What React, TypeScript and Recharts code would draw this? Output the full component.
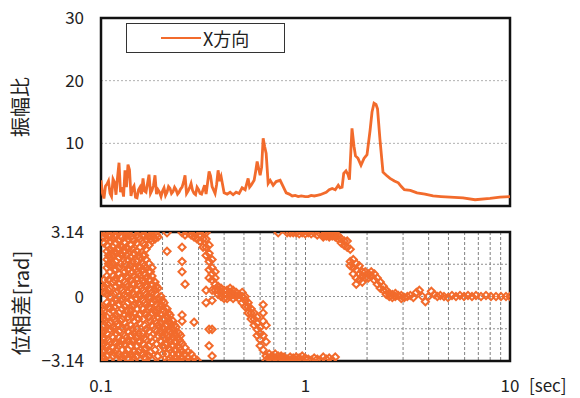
import React from 'react';
import { LineChart, Line, ScatterChart, Scatter, XAxis, YAxis, CartesianGrid, ReferenceArea } from 'recharts';

const ORANGE = '#F26B2C';
const FONT = "'Noto Sans CJK JP', 'Noto Sans', sans-serif";

const periodTicks = [0.1, 0.2, 0.3, 0.4, 0.5, 0.6, 0.7, 0.8, 0.9, 1, 2, 3, 4, 5, 6, 7, 8, 9, 10];
const ampTicks = [0, 10, 20, 30];
const phaseTicks = [-3.14, -1.57, 0, 1.57, 3.14];
const legendLabel = 'X方向';
const ampTitle = '振幅比';
const phaseTitle = '位相差[rad]';
const unitLabel = '[sec]';

const ampPeriod = [
  0.1, 0.1017, 0.1034, 0.1052, 0.107, 0.1088, 0.1107, 0.1126, 0.1145, 0.1164, 0.1184, 0.1204, 0.1225, 0.1246,
  0.1267, 0.1289, 0.131, 0.1332, 0.1355, 0.1378, 0.1402, 0.1426, 0.145, 0.1475, 0.15, 0.1526, 0.1551, 0.1577,
  0.1605, 0.1632, 0.166, 0.1688, 0.1717, 0.1746, 0.1776, 0.1806, 0.1837, 0.1868, 0.19, 0.1932, 0.1966, 0.1999,
  0.2033, 0.2068, 0.2103, 0.2139, 0.2175, 0.2212, 0.225, 0.2289, 0.2328, 0.2368, 0.2408, 0.2449, 0.2491, 0.2533,
  0.2576, 0.262, 0.2665, 0.2711, 0.2757, 0.2803, 0.2851, 0.29, 0.2949, 0.3, 0.3051, 0.3103, 0.3156, 0.321, 0.3265,
  0.3377, 0.3433, 0.3493, 0.3613, 0.3675, 0.3738, 0.3802, 0.3866, 0.3999, 0.4137, 0.4279, 0.4426, 0.4579, 0.4736,
  0.4899, 0.5068, 0.5242, 0.5332, 0.5422, 0.5609, 0.5705, 0.5802, 0.5901, 0.6001, 0.6103, 0.6208, 0.6314, 0.6421,
  0.6568, 0.672, 0.6948, 0.7187, 0.7516, 0.778, 0.8048, 0.8325, 0.8611, 0.8908, 0.9214, 0.9531, 0.9967, 1.031,
  1.066, 1.103, 1.141, 1.18, 1.221, 1.263, 1.306, 1.351, 1.398, 1.446, 1.475, 1.51, 1.538, 1.578, 1.614, 1.64,
  1.688, 1.727, 1.756, 1.806, 1.868, 1.932, 1.999, 2.068, 2.115, 2.163, 2.212, 2.25, 2.314, 2.393, 2.484, 2.59,
  2.72, 2.844, 2.941, 3.043, 3.256, 3.51, 3.84, 4.203, 4.598, 5.089, 5.891, 6.745, 7.985, 8.937, 10,
];
const ampRatio = [
  4.1, 2.0, 1.2, 3.2, 3.5, 4.0, 2.0, 1.5, 4.3, 3.8, 1.8, 4.5, 6.9, 2.2,
  3.0, 1.5, 5.7, 3.0, 6.6, 5.8, 1.6, 2.8, 3.2, 1.4, 1.3, 2.6, 3.0, 1.9,
  4.4, 2.4, 2.2, 3.6, 5.0, 2.0, 2.5, 3.3, 4.9, 1.9, 2.6, 2.2, 1.5, 2.4,
  2.9, 1.7, 2.2, 3.1, 2.8, 2.0, 2.3, 3.0, 2.6, 1.9, 2.2, 2.7, 3.0, 3.8,
  4.9, 2.0, 2.4, 2.9, 3.6, 2.5, 2.0, 1.8, 3.0, 2.6, 2.0, 1.9, 2.6, 3.3, 1.9,
  5.5, 4.8, 3.1, 2.0, 3.4, 5.7, 4.0, 4.7, 2.1, 1.9, 2.2, 1.8, 2.2, 2.0,
  2.9, 2.6, 4.4, 3.0, 3.3, 4.1, 5.5, 7.1, 6.0, 4.9, 6.2, 10.8, 9.5, 8.4,
  3.6, 4.1, 3.3, 3.9, 4.1, 3.1, 2.1, 1.9, 1.6, 1.7, 1.5, 1.6, 1.5, 1.5,
  1.7, 1.6, 1.7, 1.8, 2.0, 2.2, 2.6, 2.8, 2.6, 3.3, 2.9, 3.0, 5.2, 5.6, 5.0, 4.2,
  12.4, 9.5, 8.0, 7.6, 6.5, 7.6, 8.2, 12.0, 15.0, 16.4, 16.2, 15.5, 10.5, 5.4, 4.9, 4.4,
  4.0, 3.7, 3.1, 2.6, 2.5, 2.1, 1.9, 1.6, 1.5, 1.4, 1.3, 1.0, 1.2, 1.4, 1.5,
];

// period, phase values observed at that period
const phaseColumns: [number, number[]][] = [
  [0.1, [-3.1, -2.8, -2.5, -2.2, -1.9, -1.6, -1.2, -0.8, -0.5, 0.3, 0.6, 3.1]],
  [0.1034, [-3.0, -2.7, -2.3, -2.0, -1.7, -1.4, -1.1, -0.7, 0.2, 0.5, 0.8, 2.6, 2.9, 3.1]],
  [0.107, [-2.9, -2.4, -1.8, -1.0, -0.3, 0.1, 0.6, 1.0, 1.4, 1.8, 2.2, 2.5, 2.8, 3.1]],
  [0.1107, [-3.1, -2.7, -2.2, -1.6, -1.3, -0.6, 0.0, 0.4, 1.2, 1.5, 1.9, 2.3, 2.7, 3.0]],
  [0.1145, [-2.9, -2.5, -2.0, -1.5, -1.0, -0.7, -0.3, 0.7, 1.0, 1.6, 2.0, 2.4, 2.8, 3.1]],
  [0.1184, [-3.1, -2.6, -2.3, -1.8, -1.2, -0.9, -0.2, 0.2, 0.5, 0.9, 1.3, 1.7, 2.1, 2.6, 3.0]],
  [0.1225, [-2.8, -2.4, -2.0, -1.7, -1.4, -0.8, -0.4, 0.0, 0.6, 1.1, 1.4, 1.9, 2.3, 2.7, 3.1]],
  [0.1267, [-3.1, -2.6, -2.1, -1.5, -1.1, -0.6, -0.1, 0.3, 2.0, 2.4, 2.9]],
  [0.131, [-2.9, -2.3, -1.9, -1.3, -0.9, -0.5, 0.1, 0.7, 1.2, 1.6, 2.2, 2.6, 3.1]],
  [0.1355, [-3.0, -2.6, -2.2, -1.7, -1.0, -0.3, 0.2, 0.5, 0.9, 1.3, 1.8, 2.3, 2.8, 3.1]],
  [0.1402, [-2.8, -2.4, -1.9, -1.4, -0.7, -0.2, 0.4, 0.8, 1.5, 1.9, 2.5, 2.9]],
  [0.145, [-3.1, -2.7, -2.1, -1.8, -1.2, -0.8, -0.4, 0.1, 0.6, 1.0, 1.4, 2.1, 2.7, 3.1]],
  [0.15, [-2.9, -2.4, -2.0, -1.6, -0.6, -0.1, 0.3, 0.9, 1.2, 1.7, 2.2, 2.6, 3.0]],
  [0.1551, [-3.1, -2.6, -2.2, -1.3, -0.9, -0.4, 0.0, 0.5, 1.0, 1.4, 1.9, 2.4, 2.8, 3.1]],
  [0.1605, [-2.8, -2.3, -1.8, -1.1, -0.6, -0.2, 0.3, 0.8, 1.3, 1.6, 2.0, 2.6, 3.0]],
  [0.166, [-3.0, -2.5, -2.1, -1.6, -0.9, -0.4, 0.1, 0.5, 0.9, 1.4, 1.8, 2.3, 2.8, 3.1]],
  [0.1717, [-2.9, -2.4, -1.7, -1.0, -0.5, 0.0, 0.4, 0.8, 1.2, 1.6, 2.5, 2.9, 3.1]],
  [0.1776, [-3.1, -2.2, -1.4, -0.8, -0.3, 0.2, 0.6, 1.0, 1.4, 2.7, 3.0]],
  [0.1837, [-2.6, -1.6, -1.2, -0.7, -0.2, 0.3, 0.7, 2.8, 3.1]],
  [0.19, [-2.9, -1.9, -1.4, -1.0, -0.6, -0.1, 0.4, 2.9]],
  [0.1966, [-3.1, -2.2, -1.7, -1.3, -0.9, -0.4, 0.0]],
  [0.2033, [-2.5, -2.0, -1.6, -1.1, -0.7, -0.3]],
  [0.2103, [-2.8, -2.3, -1.9, -1.4, -1.0, -0.6, 2.2, 3.1]],
  [0.2175, [-3.0, -2.6, -2.2, -1.7, -1.3, -0.9]],
  [0.225, [-3.1, -2.8, -2.4, -2.0, -1.6, -1.2]],
  [0.2328, [-3.0, -2.6, -2.2, -1.9, -1.5]],
  [0.2408, [-3.1, -2.8, -2.5, -2.1, -1.8]],
  [0.2491, [-3.0, -2.7, -2.3, -1.2, -0.9, 1.2, 1.7, 2.4, 3.1]],
  [0.2576, [-3.1, -2.8, -2.5, 0.6, 3.0]],
  [0.2665, [-3.0, -2.7, 3.1]],
  [0.2757, [-3.1, -2.8, 3.0]],
  [0.2851, [-3.0, -1.25, 2.9, 3.1]],
  [0.2949, [-3.1, 2.8, 3.1]],
  [0.3051, [2.7, 3.0]],
  [0.3156, [2.4, 2.8, 3.1]],
  [0.3265, [-0.3, 0.3, 2.0, 2.4, 2.8, 3.1]],
  [0.3377, [-2.4, -1.6, 0.9, 1.3, 1.7, 2.1, 2.5]],
  [0.3493, [-2.9, -1.6, -0.2, 0.3, 0.8, 1.1, 1.4, 1.8]],
  [0.3613, [0.3, 0.6, 0.9, 1.2]],
  [0.3738, [0.1, 0.3, 0.5]],
  [0.3866, [0.0, 0.2, 0.4]],
  [0.3999, [-0.1, 0.1, 0.3]],
  [0.4137, [-0.1, 0.1, 0.3]],
  [0.4279, [0.0, 0.2, 0.4]],
  [0.4426, [-0.1, 0.1, 0.3]],
  [0.4579, [0.0, 0.2]],
  [0.4736, [-0.1, 0.1]],
  [0.4899, [-0.3, 0.0, 0.2]],
  [0.5068, [-0.5, -0.2, 0.0]],
  [0.5242, [-0.8, -0.5, -0.3]],
  [0.5422, [-1.1, -0.8, -0.6]],
  [0.5609, [-1.4, -1.1, -0.8]],
  [0.5802, [-1.9, -1.6, -1.3, -1.0]],
  [0.6001, [-2.4, -2.1, -1.8, -1.5]],
  [0.6208, [-2.6, -1.9, -1.2, -0.8, -0.4]],
  [0.6421, [-3.1, -2.9, -2.2, -1.4]],
  [0.6642, [-3.0, -2.8]],
  [0.6871, [-3.1, -2.9]],
  [0.7107, [-3.0, -2.8]],
  [0.7351, [-3.1, -2.9, 3.1]],
  [0.7604, [-3.0, -2.9]],
  [0.7866, [-3.1, -2.95]],
  [0.8136, [-3.05, 3.1]],
  [0.8416, [-3.1, -2.95, 3.1]],
  [0.8706, [-3.0, 3.1]],
  [0.9005, [-3.1, -2.95, 3.1]],
  [0.9315, [-3.0, 3.05]],
  [0.9636, [-3.1, -2.9, 3.1]],
  [0.9967, [-3.0, 3.05]],
  [1.031, [-3.05, 3.1]],
  [1.066, [-3.1, 3.05]],
  [1.103, [-3.0, 3.1]],
  [1.141, [-3.05, 3.0]],
  [1.18, [-3.1, 3.05]],
  [1.221, [-2.95, 2.9, 3.0]],
  [1.263, [-3.05, 2.95, 3.05]],
  [1.306, [-3.0, 2.9, 3.0]],
  [1.351, [-3.1, 2.95, 3.05]],
  [1.398, [-2.95, 2.9, 3.0]],
  [1.446, [2.8, 2.95]],
  [1.496, [2.6, 2.8]],
  [1.547, [2.5, 2.7]],
  [1.6, [2.4, 2.7]],
  [1.655, [1.5, 1.7, 2.3]],
  [1.712, [1.1, 1.4, 1.8]],
  [1.771, [0.6, 0.9, 1.3, 1.6]],
  [1.832, [0.8, 1.1, 1.5]],
  [1.895, [0.7, 1.0, 1.2]],
  [1.96, [0.9, 1.2]],
  [2.028, [0.9, 1.1]],
  [2.097, [1.0, 1.2]],
  [2.17, [0.8, 1.1]],
  [2.244, [0.6, 0.9]],
  [2.321, [0.4, 0.7]],
  [2.401, [0.3, 0.5]],
  [2.484, [0.1, 0.3]],
  [2.569, [0.0, 0.15]],
  [2.658, [-0.05, 0.1]],
  [2.749, [0.0, 0.15]],
  [2.844, [0.05]],
  [2.941, [-0.1, 0.05]],
  [3.043, [-0.05]],
  [3.147, [0.0]],
  [3.256, [0.05]],
  [3.368, [-0.05]],
  [3.484, [0.2]],
  [3.603, [0.3]],
  [3.727, [0.0]],
  [3.856, [-0.25]],
  [3.988, [0.0]],
  [4.126, [0.25]],
  [4.268, [0.1]],
  [4.414, [0.0]],
  [4.566, [0.05]],
  [4.756, [0.0]],
  [4.975, [-0.05]],
  [5.204, [0.05]],
  [5.443, [0.0]],
  [5.694, [0.05]],
  [5.957, [0.0]],
  [6.231, [0.05]],
  [6.519, [0.0]],
  [6.818, [0.05]],
  [7.215, [0.0]],
  [7.632, [0.05]],
  [8.074, [0.0]],
  [8.542, [0.0]],
  [9.037, [0.0]],
  [9.559, [0.0]],
  [10, [0.0]],
];

// additional readings in the dense short-period zone
const phaseColumnsDense: [number, number[]][] = [
  [0.1017, [-2.95, -2.65, -2.35, -2.05, -1.75, -1.45, -0.95, -0.6, 0.4]],
  [0.1088, [-2.6, -2.1, -1.4, -0.5, 0.3, 0.8, 1.6, 2.0, 2.95]],
  [0.1164, [-2.75, -2.2, -1.6, -1.1, -0.5, 0.1, 0.8, 1.3, 2.2, 2.95]],
  [0.1246, [-2.95, -2.3, -1.2, -0.2, 0.4, 0.9, 1.6, 2.1, 2.5, 2.95]],
  [0.1332, [-2.8, -2.0, -1.5, -0.7, 0.0, 0.6, 1.0, 1.5, 2.0, 2.4, 2.95]],
  [0.1426, [-2.95, -2.2, -1.6, -1.0, -0.5, 0.2, 0.6, 1.2, 1.7, 2.3, 2.8]],
  [0.1526, [-2.7, -2.2, -1.8, -1.1, -0.3, 0.1, 0.6, 1.1, 1.5, 2.0, 2.9]],
  [0.1632, [-2.95, -2.6, -2.0, -1.4, -0.8, -0.3, 0.2, 0.7, 1.1, 1.5, 2.0, 2.5, 2.95]],
  [0.1746, [-2.7, -2.0, -1.2, -0.6, -0.1, 0.3, 0.8, 1.2, 2.8]],
  [0.1868, [-2.3, -1.7, -1.3, -0.8, -0.4, 0.1, 0.5, 3.0]],
  [0.1999, [-2.8, -2.4, -1.9, -1.5, -1.1, -0.6, -0.2]],
  [0.2139, [-3.1, -2.5, -2.0, -1.6, -1.2, -0.8]],
  [0.2289, [-3.0, -2.6, -2.2, -1.8, -1.4]],
  [0.2449, [-3.0, -2.6, -2.2, -1.9]],
];

const ampData = ampPeriod.map((t, i) => ({ t, v: ampRatio[i] }));
const phaseData = [...phaseColumns, ...phaseColumnsDense].flatMap(([t, ps]) => ps.map((p) => ({ t, p })));

const near = (a: number, b: number) => Math.abs(a - b) < 1e-9;

const XTick = (props: any) => {
  const { x, y, payload } = props;
  const v = payload.value;
  let label = '';
  if (near(v, 0.1)) label = '0.1';
  else if (near(v, 1)) label = '1';
  else if (near(v, 10)) label = '10';
  if (!label) return <g />;
  return (
    <g>
      <text x={x} y={y} dy="0.71em" textAnchor="middle" fontSize={17} fill="#222" fontFamily={FONT}>{label}</text>
      {near(v, 10) ? (
        <text x={x + 19} y={y} dy="0.71em" textAnchor="start" fontSize={17} fill="#222" fontFamily={FONT}>{unitLabel}</text>
      ) : null}
    </g>
  );
};

const Diamond = (props: any) => {
  const { cx, cy } = props;
  if (cx == null || cy == null) return <g />;
  const r = 3.6;
  return (
    <path
      d={`M${cx},${cy - r}L${cx + r},${cy}L${cx},${cy + r}L${cx - r},${cy}Z`}
      fill="none"
      stroke={ORANGE}
      strokeWidth={2}
    />
  );
};

const tickStyle = { fontSize: 17, fill: '#222', fontFamily: FONT };

export default function App() {
  return (
    <div style={{ position: 'absolute', left: 0, top: 0, width: 580, height: 398, background: '#fff', fontFamily: FONT }}>
      <div style={{ position: 'absolute', left: 0, top: 0 }}>
        <LineChart width={580} height={215} data={ampData} margin={{ top: 18, right: 70, bottom: 9, left: 0 }}>
          <CartesianGrid vertical={false} stroke="#b0b0b0" strokeDasharray="2 2" />
          <CartesianGrid horizontal={false} stroke="#808080" strokeDasharray="3 2" />
          <XAxis
            dataKey="t"
            type="number"
            scale="log"
            domain={[0.1, 10]}
            allowDataOverflow
            ticks={periodTicks}
            height={0}
            tick={false}
            tickLine={false}
            axisLine={false}
          />
          <YAxis
            type="number"
            domain={[0, 30]}
            ticks={ampTicks}
            width={101}
            tickLine={false}
            axisLine={false}
            tickMargin={11}
            tick={tickStyle}
          />
          <Line type="linear" dataKey="v" stroke={ORANGE} strokeWidth={2.8} dot={false} isAnimationActive={false} />
          <ReferenceArea x1={0.1} x2={10} y1={0} y2={30} fill="none" stroke="#111" strokeWidth={2.5} />
        </LineChart>
      </div>
      <div style={{ position: 'absolute', left: 0, top: 214 }}>
        <ScatterChart width={580} height={184} margin={{ top: 18, right: 70, bottom: 7, left: 0 }}>
          <CartesianGrid vertical={false} stroke="#909090" strokeDasharray="2 2" />
          <CartesianGrid horizontal={false} stroke="#808080" strokeDasharray="3 2" />
          <XAxis
            dataKey="t"
            type="number"
            scale="log"
            domain={[0.1, 10]}
            allowDataOverflow
            ticks={periodTicks}
            height={30}
            tickLine={false}
            axisLine={false}
            tickMargin={13}
            tick={<XTick />}
            interval={0}
          />
          <YAxis
            dataKey="p"
            type="number"
            domain={[-3.14, 3.14]}
            allowDataOverflow
            ticks={phaseTicks}
            width={101}
            tickLine={false}
            axisLine={false}
            tickMargin={11}
            interval={0}
            tick={tickStyle}
            tickFormatter={(v: number) => (near(v, 3.14) ? '3.14' : near(v, -3.14) ? '−3.14' : near(v, 0) ? '0' : '')}
          />
          <Scatter data={phaseData} shape={<Diamond />} isAnimationActive={false} />
          <ReferenceArea x1={0.1} x2={10} y1={-3.14} y2={3.14} fill="none" stroke="#111" strokeWidth={2.5} />
        </ScatterChart>
      </div>
      <div
        style={{
          position: 'absolute', left: 126, top: 23, width: 159, height: 30, boxSizing: 'border-box',
          border: '1px solid #333', background: '#fff',
        }}
      >
        <svg width={157} height={28} style={{ display: 'block' }}>
          <line x1={34} y1={14} x2={74} y2={14} stroke={ORANGE} strokeWidth={2} />
          <text x={76} y={14} dominantBaseline="central" fontSize={18} fill="#222" fontFamily={FONT}>{legendLabel}</text>
        </svg>
      </div>
      <svg width={580} height={398} style={{ position: 'absolute', left: 0, top: 0, pointerEvents: 'none' }}>
        <text x={19} y={107} transform="rotate(-90 19 107)" textAnchor="middle" dominantBaseline="central" fontSize={20} fill="#222" fontFamily={FONT}>{ampTitle}</text>
        <text x={20} y={303} transform="rotate(-90 20 303)" textAnchor="middle" dominantBaseline="central" fontSize={20} fill="#222" fontFamily={FONT}>{phaseTitle}</text>
      </svg>
    </div>
  );
}
